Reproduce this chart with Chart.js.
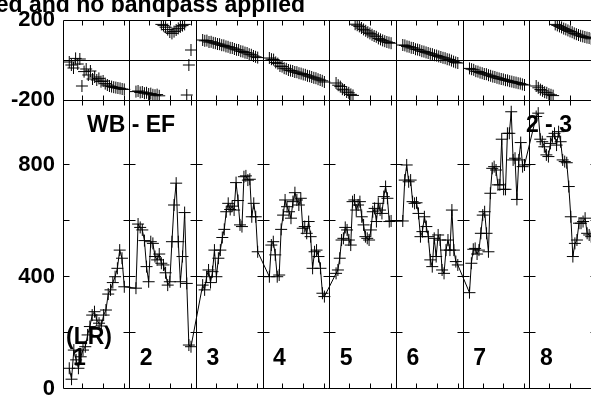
<!DOCTYPE html>
<html><head><meta charset="utf-8">
<script src="https://cdn.jsdelivr.net/npm/chart.js@4"></script>
<style>html,body{margin:0;padding:0;background:#fff;overflow:hidden}canvas{display:block}</style>
</head><body>
<canvas id="c" width="591" height="395"></canvas>
<script>
// ---- text ----
const TITLE_TEXT = 'ed and no bandpass applied';
const BASELINE_LABEL = 'WB - EF';
const SOURCE_LABEL = '2 - 3';
const POL_LABEL = '(LR)';
const IF_LABELS = ['1', '2', '3', '4', '5', '6', '7', '8'];

// ---- axes ----
const CHANNELS_PER_IF = 32;
const FIRST_CH = 3.0;
const LAST_CH = 29.4;
const X_RANGE = [0, 253.3];
const X_TICKS = [9.5, 19.5, 29.5];
const PHASE_RANGE = [-200, 200];
const PHASE_TICKS = [-200, 200];
const AMP_RANGE = [0, 1032];
const AMP_TICKS = [0, 400, 800];
const AMP_MINOR = [200, 400, 600, 800];

// ---- amplitude per IF ----
const amp1 = [74, 35, 139, 104, 74, 115, 139, 151, 193, 223, 264, 276, 246, 235, 225, 264, 282, 339, 354, 380, 401, 431, 496, 467, 365];
const amp2 = [360, 589, 577, 568, 530, 437, 383, 526, 520, 473, 461, 482, 449, 443, 415, 371, 383, 526, 657, 735, 526, 383, 473, 630, 377, 157, 151];
const amp3 = [371, 354, 401, 425, 380, 419, 496, 401, 467, 496, 541, 570, 633, 663, 641, 653, 639, 737, 673, 586, 580, 758, 761, 746, 749, 615, 663, 615, 490];
const amp4 = [401, 514, 526, 479, 401, 407, 570, 621, 675, 651, 633, 610, 669, 701, 675, 657, 681, 574, 580, 556, 598, 544, 431, 490, 496, 473, 431, 342, 330];
const amp5 = [413, 425, 467, 532, 538, 577, 568, 532, 514, 669, 675, 639, 657, 669, 615, 586, 544, 538, 532, 568, 633, 645, 598, 663, 639, 627, 687, 723, 681, 598, 600];
const amp6 = [600, 746, 800, 740, 746, 669, 663, 665, 627, 544, 562, 615, 580, 544, 461, 437, 538, 473, 550, 532, 425, 413, 496, 532, 496, 639, 496, 455, 443];
const amp7 = [344, 449, 499, 502, 482, 496, 556, 621, 633, 556, 490, 699, 788, 794, 782, 729, 729, 892, 713, 713, 913, 913, 990, 818, 824, 677, 818, 880, 794, 800];
const amp8 = [973, 985, 892, 883, 865, 836, 830, 877, 901, 913, 871, 919, 883, 818, 812, 808, 723, 615, 473, 520, 532, 592, 592, 598, 610, 556, 550, 544];

// ---- phase per IF (degrees) ----
const ph1 = [-10, -25, -40, 8, -20, 5, -130, -58, -45, -75, -55, -95, -85, -100, -92, -108, -105, -118, -125, -130, -133, -136, -138, -140, -142, -145, -147];
const ph2 = [-158, -155, -162, -160, -166, -164, -170, -168, -174, -176, -173, -179, 178, 172, 164, 152, 140, 133, 142, 150, 158, 166, 172, 178, -175, -25, 50];
const ph3 = [100, 96, 97, 90, 91, 86, 84, 80, 79, 74, 73, 68, 66, 61, 60, 55, 51, 50, 44, 42, 37, 35, 29, 26, 20, 16, 12];
const ph4 = [10, 4, 2, -12, -18, -30, -33, -41, -44, -50, -53, -55, -60, -61, -66, -68, -72, -74, -79, -81, -85, -89, -91, -96, -100, -104, -110];
const ph5 = [-115, -126, -133, -146, -150, -160, -164, -172, -177, 179, 174, 168, 160, 153, 146, 139, 133, 126, 120, 116, 108, 103, 98, 94, 90, 87, 84];
const ph6 = [75, 73, 68, 66, 61, 60, 54, 52, 49, 44, 42, 38, 35, 31, 29, 24, 22, 18, 15, 11, 9, 4, 2, -3, -8, -12, -15];
const ph7 = [-42, -46, -49, -56, -58, -63, -66, -70, -71, -76, -79, -83, -85, -89, -92, -95, -97, -101, -102, -106, -108, -111, -113, -116, -118, -122, -125];
const ph8 = [-130, -139, -148, -154, -161, -164, -171, -174, -178, 178, 173, 168, 163, 157, 153, 148, 143, 139, 133, 129, 125, 121, 118, 115, 112, 110, 106];

const AMPS = [amp1, amp2, amp3, amp4, amp5, amp6, amp7, amp8];
const PHASES = [ph1, ph2, ph3, ph4, ph5, ph6, ph7, ph8];

function toPoints(list) {
  const pts = [];
  list.forEach((arr, k) => {
    const step = (LAST_CH - FIRST_CH) / (arr.length - 1);
    arr.forEach((v, i) => pts.push({x: k * CHANNELS_PER_IF + FIRST_CH + i * step, y: v}));
  });
  return pts;
}

const FONT = '"Liberation Sans", Arial, Helvetica, sans-serif';

const framePlugin = {
  id: 'frame',
  beforeDatasetsDraw(chart) {
    const {ctx, chartArea: a} = chart;
    const x = chart.scales.x, yP = chart.scales.yPhase, yA = chart.scales.yAmp;
    const c = v => Math.floor(v) + 0.5;
    const yTop = c(yP.getPixelForValue(PHASE_RANGE[1]));
    const yMid = c(yP.getPixelForValue(PHASE_RANGE[0]));
    const yZero = c(yP.getPixelForValue(0));
    const yBot = c(yA.getPixelForValue(0) - 0.5);
    const L = c(x.getPixelForValue(0));
    const R = a.right + 10;
    ctx.save();
    ctx.strokeStyle = '#000';
    ctx.lineWidth = 1;
    ctx.beginPath();
    [yTop, yMid, yZero, yBot].forEach(y => { ctx.moveTo(L, y); ctx.lineTo(R, y); });
    for (let k = 0; k <= IF_LABELS.length; k++) {
      const px = c(x.getPixelForValue(k * CHANNELS_PER_IF));
      ctx.moveTo(px, yTop); ctx.lineTo(px, yBot);
      AMP_MINOR.forEach(v => {
        const py = c(yA.getPixelForValue(v));
        ctx.moveTo(k === 0 ? px : px - 6, py); ctx.lineTo(px + 6, py);
      });
      X_TICKS.forEach(t => {
        const tx = c(x.getPixelForValue(k * CHANNELS_PER_IF + t));
        ctx.moveTo(tx, yTop); ctx.lineTo(tx, yTop + 5);
        ctx.moveTo(tx, yMid - 5); ctx.lineTo(tx, yMid + 5);
        ctx.moveTo(tx, yBot); ctx.lineTo(tx, yBot - 5);
      });
    }
    ctx.stroke();
    ctx.restore();
  },
  afterDatasetsDraw(chart) {
    const {ctx} = chart;
    const x = chart.scales.x, yA = chart.scales.yAmp;
    const top = yA.getPixelForValue(AMP_RANGE[1]);
    const bot = yA.getPixelForValue(0);
    ctx.save();
    ctx.fillStyle = '#000';
    ctx.font = 'bold 23px ' + FONT;
    ctx.textBaseline = 'middle';
    ctx.textAlign = 'left';
    ctx.fillText(BASELINE_LABEL, x.getPixelForValue(0) + 24, top + 26);
    ctx.fillText(SOURCE_LABEL, x.getPixelForValue(7 * CHANNELS_PER_IF) - 4, top + 26);
    ctx.fillText(POL_LABEL, x.getPixelForValue(0) + 3, bot - 51);
    IF_LABELS.forEach((t, k) => {
      ctx.fillText(t, x.getPixelForValue(k * CHANNELS_PER_IF) + 10, bot - 30);
    });
    ctx.textAlign = 'right';
    ctx.textBaseline = 'alphabetic';
    ctx.fillText(TITLE_TEXT, 305, 12);
    ctx.restore();
  }
};

const yCommon = {
  type: 'linear', position: 'left', stack: 'v',
  grid: {display: false, drawTicks: false},
  border: {display: false},
  ticks: {color: '#000', padding: 8, font: {family: FONT, size: 22, weight: 'bold'}},
};

new Chart(document.getElementById('c'), {
  type: 'line',
  data: {
    datasets: [
      {
        label: 'amplitude', yAxisID: 'yAmp', data: toPoints(AMPS),
        borderColor: '#000', borderWidth: 1, tension: 0, fill: false,
        pointStyle: 'cross', pointRadius: 6, pointBorderColor: '#000', pointBorderWidth: 1,
        pointBackgroundColor: '#000'
      },
      {
        label: 'phase', yAxisID: 'yPhase', data: toPoints(PHASES), showLine: false,
        pointStyle: 'cross', pointRadius: 6, pointBorderColor: '#000', pointBorderWidth: 1,
        pointBackgroundColor: '#000'
      }
    ]
  },
  options: {
    responsive: false, animation: false, devicePixelRatio: 1,
    layout: {autoPadding: false, padding: {top: 20, right: 0, bottom: 6, left: 0}},
    plugins: {legend: {display: false}, tooltip: {enabled: false}, title: {display: false}},
    scales: {
      x: {type: 'linear', min: X_RANGE[0], max: X_RANGE[1], display: false},
      yAmp: Object.assign({}, yCommon, {
        stackWeight: 289, weight: 1, min: AMP_RANGE[0], max: AMP_RANGE[1],
        afterBuildTicks: s => { s.ticks = AMP_TICKS.map(v => ({value: v})); },
        afterFit: s => { s.width = 63; s.paddingTop = 0; s.paddingBottom = 0; }
      }),
      yPhase: Object.assign({}, yCommon, {
        stackWeight: 80, weight: 2, min: PHASE_RANGE[0], max: PHASE_RANGE[1],
        afterBuildTicks: s => { s.ticks = PHASE_TICKS.map(v => ({value: v})); },
        afterFit: s => { s.width = 63; s.paddingTop = 0; s.paddingBottom = 0; }
      })
    }
  },
  plugins: [framePlugin]
});
</script>
</body></html>
